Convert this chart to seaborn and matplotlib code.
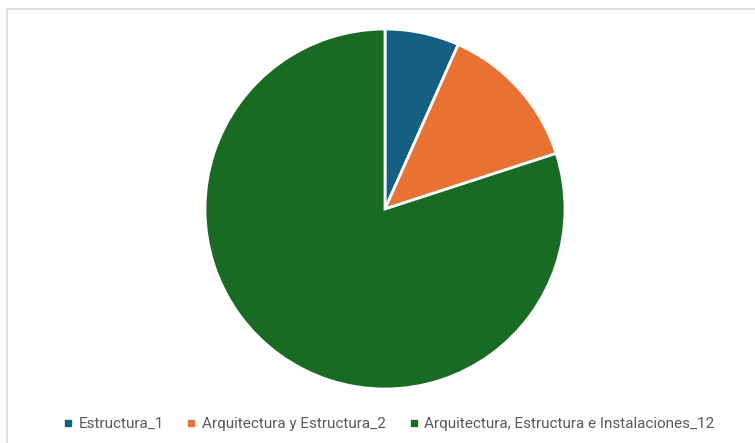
import matplotlib
matplotlib.use("Agg")
import matplotlib.pyplot as plt
import seaborn as sns
from matplotlib.lines import Line2D

categories = ["Estructura_1", "Arquitectura y Estructura_2",
              "Arquitectura, Estructura e Instalaciones_12"]
values = [1, 2, 12]
colors = ["#156082", "#E97132", "#196B24"]

sns.set_theme(style="white")
plt.rcParams["font.family"] = ["Roboto", "DejaVu Sans"]

W, H = 755, 443
fig = plt.figure(figsize=(W / 100, H / 100), dpi=100)
fig.patch.set_facecolor("white")

cx, cy, r = 385, 209, 180
ax = fig.add_axes([(cx - r) / W, (H - cy - r) / H, 2 * r / W, 2 * r / H])
wedges, _ = ax.pie(values, colors=colors, startangle=90, counterclock=False,
                   radius=1.0,
                   wedgeprops=dict(edgecolor="white", linewidth=2))
ax.set_xlim(-1.0, 1.0)
ax.set_ylim(-1.0, 1.0)
ax.set_aspect("equal")
ax.axis("off")

# chart-area frame (top and left edges visible)
fx, fy = 6.5 / W, 1 - 8.5 / H
fig.add_artist(Line2D([fx, 1.0], [fy, fy], transform=fig.transFigure,
                      color="#d9d9d9", linewidth=1.2))
fig.add_artist(Line2D([fx, fx], [0.0, fy], transform=fig.transFigure,
                      color="#d9d9d9", linewidth=1.2))

handles = [Line2D([0], [0], marker="s", linestyle="", markersize=5,
                  markerfacecolor=c, markeredgecolor=c) for c in colors]
leg = fig.legend(handles, categories, loc="center", ncol=3,
                 bbox_to_anchor=(389 / W, 1 - 424 / H), frameon=False,
                 fontsize=11, handlelength=0.6, handletextpad=0.4,
                 columnspacing=1.5)
for t in leg.get_texts():
    t.set_color("#595959")

fig.savefig("out.png", dpi=100, facecolor="white")
